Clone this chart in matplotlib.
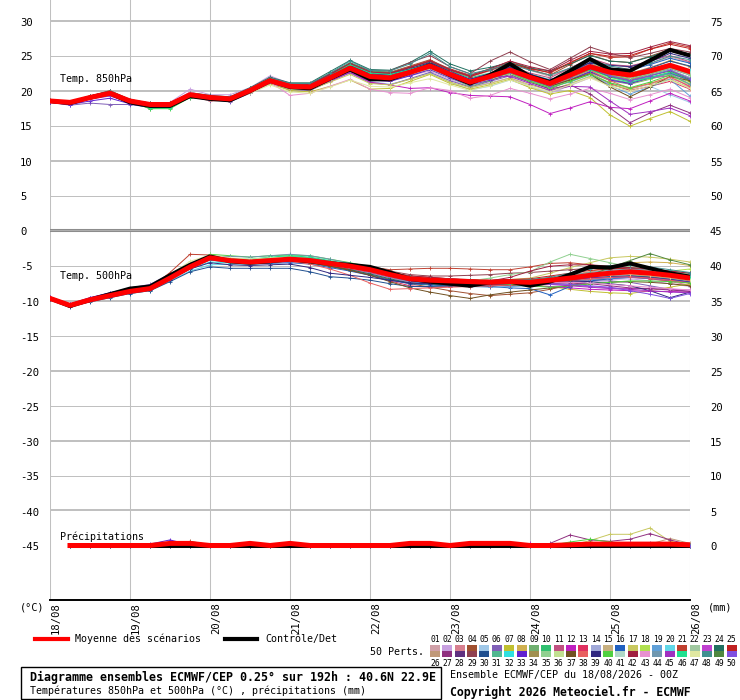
import matplotlib
matplotlib.use("Agg")
import matplotlib.pyplot as plt
from matplotlib.lines import Line2D
from matplotlib.patches import Rectangle

plt.rcParams['font.family'] = ['DejaVu Sans Mono']

# échéances toutes les 6h sur 192h
hours = list(range(0, 193, 6))
day_labels = ["18/08", "19/08", "20/08", "21/08", "22/08", "23/08", "24/08", "25/08", "26/08"]

# ---- Temp 850hPa
t850_mean = [18.5, 18.3, 19.0, 19.6, 18.5, 18.0, 18.0, 19.4, 19.0, 18.8, 20.0, 21.4, 20.6, 20.5, 21.8, 23.2, 22.0,
             21.8, 22.6, 23.5, 22.3, 21.2, 22.0, 22.9, 21.9, 21.0, 22.2, 23.4, 22.6, 22.2, 22.8, 23.6, 22.7]
t850_ctrl = [18.5, 18.2, 19.0, 19.6, 18.3, 17.8, 17.8, 19.2, 18.8, 18.6, 19.9, 21.4, 20.5, 20.3, 21.7, 23.0, 21.6,
             21.6, 22.6, 23.6, 22.2, 21.0, 22.2, 23.8, 22.0, 21.2, 22.8, 24.5, 23.0, 22.8, 24.3, 25.8, 25.0]
t850_members = [
    [18.6,18.4,19.2,19.9,18.7,18.1,18.2,19.7,19.2,19.0,20.3,21.8,20.9,20.8,22.2,23.6,22.5,22.3,23.0,24.0,22.9,21.9,22.8,23.8,22.9,22.0,23.2,24.5,23.7,23.3,23.8,24.8,24.0],
    [18.4,18.2,19.1,19.8,18.6,18.1,18.3,20.2,19.4,19.4,20.4,22.1,21.0,20.8,22.0,23.3,21.8,21.4,22.1,22.8,21.6,20.4,21.1,21.8,20.6,19.6,20.7,21.8,20.9,20.2,20.9,21.7,20.8],
    [18.5,18.2,18.9,19.5,18.4,17.9,17.9,19.3,18.5,18.6,19.9,21.2,20.3,20.2,21.5,22.9,21.6,21.5,22.4,23.3,22.2,21.3,22.1,23.0,22.1,21.2,22.6,23.8,22.9,22.4,23.3,24.2,23.4],
    [18.6,18.4,19.2,20.0,18.7,18.2,18.1,19.5,19.1,18.9,20.2,21.5,20.9,20.7,22.3,23.9,22.7,22.6,23.5,24.4,23.0,22.0,22.9,24.0,23.0,22.2,23.7,25.1,24.2,24.0,24.9,25.9,25.2],
    [18.4,18.1,18.9,19.4,18.3,17.8,17.8,19.2,18.8,18.5,19.7,21.0,20.2,20.1,21.4,22.6,21.3,20.9,21.6,22.5,21.2,20.1,20.6,21.5,20.5,19.8,20.9,22.1,21.0,20.0,20.6,19.4,18.3],
    [18.3,17.9,18.2,18.0,18.0,17.6,17.7,19.0,18.7,18.4,19.6,21.0,20.1,20.0,21.3,22.5,21.1,20.8,21.7,22.6,21.4,20.5,21.3,22.1,21.2,20.4,21.8,23.0,22.0,21.5,22.3,23.1,22.2],
    [18.5,18.3,19.0,19.5,18.4,17.9,18.0,19.3,18.9,18.6,19.8,21.0,20.0,19.8,20.6,21.5,20.2,20.3,21.3,22.3,21.0,20.2,20.8,21.6,20.4,19.5,20.0,19.0,16.5,14.9,16.0,17.0,15.6],
    [18.5,18.3,19.1,19.7,18.6,18.1,18.1,19.5,19.1,18.9,20.1,21.5,20.7,20.6,21.9,23.4,22.2,22.0,22.8,23.7,22.5,21.4,22.3,23.3,22.2,21.3,22.6,23.9,23.0,22.5,23.2,24.3,23.4],
    [18.5,18.2,19.0,19.6,18.4,17.4,17.5,19.1,18.8,18.6,19.9,21.3,20.5,20.3,21.6,23.0,21.8,21.5,22.2,23.0,21.8,20.6,21.4,22.3,21.2,20.2,21.4,22.6,21.4,20.9,21.6,22.4,21.4],
    [18.6,18.4,19.1,19.8,18.6,18.0,18.1,19.6,19.2,19.0,20.2,21.7,21.0,20.9,22.4,24.0,22.8,22.6,23.3,24.1,22.8,21.8,22.5,23.4,22.4,21.5,22.5,23.6,22.6,21.9,22.4,22.9,21.8],
    [18.5,18.3,19.0,19.7,18.5,18.0,18.0,19.4,18.9,18.8,20.0,21.4,20.6,20.6,21.9,23.3,22.1,21.9,22.7,23.6,22.4,21.4,22.4,23.5,22.5,21.8,23.2,24.6,23.7,23.5,24.2,25.0,24.1],
    [18.4,18.2,18.9,19.5,18.4,17.9,17.9,19.3,18.9,18.7,19.8,21.2,20.3,20.1,21.3,22.6,21.2,20.8,20.3,20.4,19.7,19.3,19.2,19.1,18.0,16.7,17.5,18.4,17.6,17.4,18.5,19.6,18.5],
    [18.5,18.3,19.0,19.6,18.5,18.0,17.9,19.3,19.0,18.7,20.0,21.3,20.5,20.4,21.7,23.1,21.9,21.8,22.6,23.5,22.3,21.2,22.0,22.8,21.7,20.6,21.6,22.5,21.0,20.0,20.6,21.3,20.2],
    [18.5,18.3,19.1,19.7,18.6,18.1,18.2,19.6,19.1,18.9,20.1,21.6,20.7,20.6,22.0,23.5,22.3,22.2,22.9,23.8,22.6,21.5,22.2,23.0,22.0,21.1,22.3,23.5,22.5,21.8,22.3,22.8,21.9],
    [18.5,18.3,19.0,19.6,18.5,18.0,18.0,19.4,19.0,18.8,20.0,21.3,20.5,20.5,21.8,23.2,22.0,21.7,22.5,23.4,22.1,21.0,21.8,22.7,21.6,20.7,22.0,23.2,22.3,21.8,22.6,23.4,22.6],
    [18.4,18.2,19.0,19.6,18.5,18.0,18.1,19.5,19.1,18.9,20.1,21.5,20.8,20.8,22.2,23.7,22.6,22.4,23.1,23.9,22.7,21.6,22.4,23.3,22.3,21.5,22.7,24.0,23.2,22.9,23.7,24.6,23.9],
    [18.5,18.3,19.0,19.5,18.4,17.9,18.0,19.3,18.9,18.7,19.8,21.1,20.2,20.1,21.2,22.3,21.0,20.8,21.6,22.4,21.2,20.4,21.0,21.8,20.8,20.0,21.0,22.0,20.8,20.2,21.0,21.6,20.4],
    [18.6,18.4,19.1,19.7,18.6,18.1,18.1,19.5,19.1,19.0,20.3,21.7,20.9,20.8,22.2,23.8,22.5,22.3,23.0,23.9,22.6,21.4,22.1,22.9,21.8,20.8,21.7,22.9,21.7,21.0,21.7,22.2,21.2],
    [18.5,18.3,19.0,19.6,18.5,18.0,18.0,19.4,18.9,18.8,19.9,21.3,20.5,20.4,21.7,23.1,21.9,21.7,22.5,23.4,22.2,21.3,21.9,22.7,21.5,20.5,21.2,22.3,20.7,19.5,20.5,21.6,19.2],
    [18.5,18.3,19.0,19.6,18.5,18.0,18.0,19.4,19.0,18.8,20.0,21.4,20.6,20.5,21.8,23.2,22.1,21.9,22.7,23.6,22.4,21.3,22.1,23.0,22.0,21.2,22.4,23.6,22.7,22.3,22.9,23.7,22.9],
    [18.5,18.4,19.1,19.8,18.6,18.1,18.2,19.6,19.2,19.0,20.2,21.6,20.9,20.9,22.3,23.8,22.6,22.5,23.4,24.3,23.1,22.2,23.1,24.2,23.2,22.5,23.9,25.3,24.7,24.8,25.9,26.8,26.2],
    [18.5,18.3,19.0,19.5,18.4,17.9,18.0,19.3,18.9,18.7,19.9,21.2,20.4,20.3,21.5,22.8,21.6,21.4,22.2,23.1,21.9,20.9,21.7,22.6,21.6,20.8,21.9,23.1,21.9,21.3,22.2,23.0,21.8],
    [18.5,18.3,19.1,19.7,18.6,18.1,18.1,19.5,19.1,18.9,20.1,21.5,20.7,20.6,21.9,23.4,22.3,22.1,22.9,23.9,22.6,21.5,22.3,23.3,22.2,21.2,22.4,23.8,22.5,21.5,21.8,22.1,20.5],
    [18.6,18.4,19.2,19.9,18.7,18.1,18.2,19.7,19.3,19.1,20.4,21.9,21.1,21.1,22.7,24.3,23.0,22.9,24.0,25.6,23.8,22.8,23.3,24.0,23.2,22.8,23.8,25.0,24.2,24.0,24.8,25.8,25.2],
    [18.5,18.3,19.1,19.7,18.6,18.0,18.1,19.5,19.1,18.9,20.2,21.6,20.8,20.7,22.1,23.6,22.5,22.4,23.3,24.2,22.9,22.0,22.9,23.9,23.1,22.6,24.0,25.3,24.9,25.0,25.9,26.6,26.0],
    [18.5,18.2,18.9,19.5,18.4,17.9,17.9,19.3,18.9,18.7,19.9,21.3,20.4,20.3,21.6,23.0,21.7,21.5,22.3,23.2,22.0,21.0,21.8,22.7,21.7,20.9,22.0,23.2,22.1,21.6,22.4,23.3,22.3],
    [18.5,18.3,19.0,19.6,18.5,18.0,18.0,19.4,19.0,18.8,19.9,21.3,20.4,20.3,21.6,22.9,21.7,21.5,22.2,23.1,21.9,20.9,21.5,22.3,21.2,20.2,20.8,19.5,17.5,15.4,16.8,17.9,16.8],
    [18.4,18.2,18.9,19.5,18.4,17.9,17.9,19.3,18.8,18.6,19.8,21.2,20.4,20.3,21.6,23.0,21.8,21.6,22.4,23.3,22.1,21.1,21.9,22.8,21.8,20.9,22.1,23.3,22.3,21.7,22.5,23.4,22.5],
    [18.6,18.4,19.2,19.9,18.7,18.2,18.2,19.6,19.2,19.0,20.3,21.8,21.0,21.0,22.4,23.9,22.8,22.8,24.0,25.0,23.4,22.4,24.2,25.5,24.1,23.0,24.6,26.2,25.3,24.7,25.3,26.0,25.5],
    [18.5,18.3,19.1,19.7,18.6,18.1,18.1,19.5,19.1,18.9,20.2,21.6,20.9,20.8,22.2,23.6,22.4,22.2,23.0,23.9,22.6,21.5,22.3,23.2,22.2,21.3,22.5,23.7,22.8,22.3,23.2,24.2,23.5],
    [18.5,18.3,19.0,19.6,18.5,18.0,18.0,19.4,19.0,18.8,20.0,21.3,20.5,20.4,21.7,23.1,21.9,21.7,22.5,23.3,22.1,21.0,21.7,22.5,21.4,20.5,21.6,22.7,21.6,21.1,21.9,22.6,21.5],
    [18.5,18.3,19.0,19.7,18.5,18.0,18.1,19.5,19.0,18.9,20.1,21.5,20.7,20.6,22.0,23.4,22.2,22.0,22.8,23.7,22.5,21.4,22.2,23.1,22.1,21.2,22.4,23.7,22.8,22.4,23.1,23.8,22.8],
    [18.3,18.0,18.5,18.9,18.1,17.6,17.7,19.1,18.7,18.5,19.7,21.1,20.3,20.2,21.5,22.8,21.5,21.3,22.1,23.0,21.8,20.8,21.5,22.4,21.3,20.3,21.5,22.7,21.5,21.0,21.8,22.5,21.5],
    [18.5,18.3,19.0,19.6,18.5,18.0,18.0,19.4,18.8,18.7,19.9,21.3,20.4,20.3,21.6,23.0,21.8,21.6,22.4,23.3,22.1,21.1,21.9,22.8,21.8,20.9,22.1,23.2,22.2,21.6,22.4,23.3,22.4],
    [18.5,18.3,19.1,19.7,18.6,18.0,18.1,19.5,19.1,18.9,20.1,21.5,20.7,20.6,21.9,23.3,22.1,21.9,22.7,23.6,22.3,21.2,22.0,22.9,21.8,20.9,22.1,23.3,22.3,21.7,22.4,23.2,22.2],
    [18.5,18.3,19.0,19.5,18.4,17.9,17.9,19.3,18.9,18.7,19.9,21.2,20.3,20.2,21.5,22.9,21.7,21.5,22.3,23.1,21.9,20.9,21.6,22.4,21.3,20.4,21.4,22.4,21.1,20.3,21.0,22.0,20.8],
    [18.5,18.3,19.0,19.6,18.5,18.0,18.0,19.4,19.0,18.8,20.0,21.4,20.6,20.4,21.7,23.1,21.8,21.6,22.4,23.3,22.1,21.1,21.8,22.7,21.6,20.6,21.5,22.4,20.5,19.1,20.5,22.0,21.4],
    [18.5,18.3,19.0,19.6,18.5,18.0,18.0,19.4,18.9,18.8,20.0,21.3,20.5,20.4,21.7,23.1,21.9,21.7,22.6,23.5,22.2,21.2,21.9,22.8,21.7,20.8,21.8,22.9,21.4,20.3,21.0,21.9,20.6],
    [18.5,18.3,19.0,19.6,18.5,18.0,18.0,19.4,19.0,18.8,20.0,21.4,20.6,20.6,22.0,23.5,22.4,22.3,23.1,24.0,22.7,21.6,22.4,23.3,22.3,21.4,22.6,24.0,23.6,23.4,24.1,25.3,24.6],
    [18.5,18.3,19.0,19.6,18.5,17.4,17.4,19.0,18.8,18.6,19.9,21.3,20.5,20.4,21.8,23.3,22.1,21.9,22.7,23.5,22.1,21.0,21.7,22.5,21.3,20.4,21.3,22.3,21.1,20.4,21.2,22.2,20.9],
    [18.5,18.3,19.0,19.6,18.5,18.0,18.0,19.4,19.0,18.8,20.0,21.4,20.6,20.5,21.8,23.2,22.0,21.8,22.6,23.5,22.3,21.2,22.0,22.9,21.9,21.0,22.2,23.4,22.5,22.0,22.7,23.5,22.6],
    [18.5,18.3,19.1,19.8,18.6,18.1,18.1,19.6,19.2,19.0,20.2,21.7,20.9,20.9,22.3,23.8,22.6,22.5,23.3,24.2,23.0,22.1,23.1,24.2,23.4,22.8,24.3,25.6,25.2,25.3,26.2,27.0,26.4],
    [18.6,18.4,19.1,19.8,18.6,18.0,18.0,19.8,18.9,18.7,19.9,21.2,19.3,19.6,20.6,21.6,20.2,19.7,19.6,20.4,20.0,18.9,19.3,20.3,19.6,18.8,19.5,20.3,19.6,18.7,19.4,20.2,19.0],
    [18.5,18.3,19.0,19.6,18.5,18.0,18.0,19.4,19.0,18.8,20.0,21.4,20.6,20.5,21.8,23.2,22.0,21.8,22.6,23.5,22.3,21.2,22.0,22.9,21.9,21.0,22.1,23.2,22.1,21.4,21.9,22.4,20.9],
    [18.5,18.3,19.0,19.6,18.5,18.0,18.0,19.4,19.0,18.8,20.0,21.4,20.6,20.5,21.8,23.2,22.1,21.9,22.8,23.8,22.6,21.5,22.0,22.0,21.0,20.0,20.6,20.5,18.5,16.6,17.0,17.5,16.4],
    [18.5,18.3,19.0,19.6,18.5,17.5,17.5,19.1,18.9,18.7,20.0,21.5,20.8,20.7,22.1,23.7,22.5,22.3,23.0,23.8,22.5,21.4,22.1,22.9,21.8,20.8,21.9,23.0,21.9,21.2,21.8,22.6,21.6],
    [18.5,18.3,19.0,19.5,18.3,17.9,18.0,19.3,18.8,18.6,19.6,20.8,19.8,19.6,20.5,21.5,20.6,20.5,21.1,21.7,20.8,20.0,20.7,21.5,20.6,19.8,20.8,21.8,20.6,19.9,20.7,21.5,20.3],
    [18.6,18.4,19.2,19.9,18.7,18.2,18.2,19.6,19.2,19.0,20.3,21.8,21.0,21.0,22.5,24.2,22.9,22.8,23.8,25.3,23.4,22.4,23.0,23.8,22.9,22.2,23.2,24.4,23.5,23.0,23.9,24.9,24.4],
    [18.5,18.3,19.0,19.6,18.5,18.0,18.0,19.4,19.0,18.8,20.0,21.4,20.6,20.5,21.8,23.2,22.0,21.8,22.6,23.5,22.2,21.1,21.9,22.8,21.7,20.8,22.0,23.1,22.0,21.4,22.1,22.8,21.6],
    [18.4,18.1,18.8,19.2,18.3,17.9,17.9,19.3,18.9,18.7,19.9,21.3,20.5,20.4,21.7,23.1,21.9,21.6,22.4,23.2,21.9,20.9,21.7,22.6,21.6,20.7,21.9,23.2,22.1,21.4,22.1,22.9,21.7],
]

# ---- Temp 500hPa
t500_mean = [-9.7, -10.7, -9.9, -9.3, -8.7, -8.3, -6.8, -5.2, -3.9, -4.3, -4.5, -4.3, -4.1, -4.3, -4.7, -5.1, -5.6,
             -6.3, -6.9, -7.1, -7.2, -7.3, -7.4, -7.3, -7.4, -7.1, -6.8, -6.4, -6.1, -5.9, -6.1, -6.4, -6.8]
t500_ctrl = [-9.7, -10.8, -9.9, -9.1, -8.3, -8.0, -6.4, -4.9, -3.7, -4.4, -4.6, -4.4, -4.1, -4.4, -4.7, -4.9, -5.2,
             -6.0, -6.9, -7.3, -7.6, -7.9, -7.4, -7.3, -7.9, -7.3, -6.3, -5.2, -5.3, -4.7, -5.4, -6.1, -6.6]
t500_members = [
    [-9.6,-10.6,-9.8,-9.1,-8.5,-8.0,-6.5,-4.9,-3.7,-4.0,-4.2,-4.0,-3.9,-4.1,-4.6,-5.0,-5.5,-6.1,-6.7,-6.9,-7.0,-7.0,-7.1,-7.0,-7.0,-6.7,-6.3,-5.9,-5.6,-5.4,-5.6,-5.9,-6.3],
    [-9.8,-10.8,-10.0,-9.4,-8.8,-8.4,-7.0,-5.4,-4.1,-4.4,-4.7,-4.6,-4.5,-4.7,-5.2,-5.6,-6.1,-6.8,-7.4,-7.6,-7.7,-7.8,-7.9,-7.8,-7.8,-7.5,-7.3,-7.1,-7.0,-6.9,-7.2,-7.6,-8.0],
    [-9.7,-10.7,-9.9,-9.2,-8.6,-8.2,-6.7,-5.0,-3.8,-4.2,-4.4,-4.2,-4.0,-4.2,-4.6,-5.0,-5.4,-6.0,-6.5,-6.7,-6.9,-7.1,-7.2,-7.2,-7.4,-7.2,-7.0,-6.8,-6.7,-6.6,-6.9,-7.3,-7.8],
    [-9.7,-10.7,-9.9,-9.3,-8.7,-8.3,-6.9,-5.3,-4.0,-4.4,-4.6,-4.4,-4.3,-4.6,-5.1,-5.7,-6.3,-7.0,-7.6,-8.1,-8.6,-9.0,-9.3,-9.1,-8.9,-8.4,-7.8,-7.2,-6.8,-6.5,-6.6,-6.9,-7.2],
    [-9.6,-10.6,-9.8,-9.2,-8.6,-8.1,-6.6,-5.0,-3.8,-4.2,-4.4,-4.2,-4.1,-4.3,-4.8,-5.3,-5.9,-6.6,-7.3,-7.6,-7.8,-7.9,-7.9,-7.8,-7.7,-7.4,-7.0,-6.6,-6.4,-6.3,-6.5,-6.9,-7.3],
    [-9.5,-10.5,-9.6,-8.9,-8.2,-7.7,-6.2,-4.8,-3.8,-4.3,-4.4,-4.1,-4.0,-4.2,-4.6,-5.0,-5.5,-6.2,-6.8,-7.0,-7.2,-7.3,-7.5,-7.5,-7.7,-7.6,-7.4,-7.2,-7.2,-7.4,-7.9,-8.4,-8.7],
    [-9.7,-10.7,-9.9,-9.2,-8.6,-8.2,-6.7,-5.0,-3.8,-4.2,-4.4,-4.2,-4.1,-4.3,-4.7,-5.1,-5.6,-6.3,-6.9,-7.1,-7.3,-7.5,-7.7,-7.6,-7.8,-8.0,-8.4,-8.7,-8.9,-9.0,-8.6,-8.1,-7.6],
    [-9.7,-10.7,-9.9,-9.3,-8.7,-8.3,-6.8,-5.2,-3.9,-4.3,-4.5,-4.3,-4.1,-4.3,-4.7,-5.1,-5.6,-6.3,-6.9,-7.1,-7.2,-7.3,-7.4,-7.3,-7.4,-7.1,-6.5,-5.9,-5.1,-4.6,-4.5,-4.6,-5.0],
    [-9.7,-10.7,-9.9,-9.3,-8.7,-8.3,-6.8,-5.1,-3.7,-4.1,-4.3,-4.0,-3.8,-4.0,-4.5,-5.0,-5.5,-6.2,-6.8,-7.0,-7.1,-7.2,-7.3,-7.2,-7.3,-7.0,-6.8,-6.5,-6.4,-6.3,-6.5,-6.8,-7.1],
    [-9.6,-10.6,-9.8,-9.2,-8.6,-8.2,-6.6,-4.9,-3.6,-4.0,-4.2,-3.9,-3.7,-3.9,-4.4,-4.9,-5.4,-6.1,-6.7,-7.0,-7.1,-7.3,-7.4,-7.5,-7.7,-7.5,-7.3,-7.0,-6.8,-6.5,-6.5,-6.7,-7.0],
    [-9.7,-10.7,-9.9,-9.3,-8.7,-8.4,-6.9,-5.3,-4.0,-4.4,-4.6,-4.4,-4.3,-4.6,-5.0,-5.5,-6.0,-6.7,-7.3,-7.5,-7.6,-7.6,-7.7,-7.6,-7.6,-7.3,-6.9,-6.5,-6.2,-6.0,-6.1,-6.4,-6.8],
    [-9.7,-10.7,-9.9,-9.3,-8.7,-8.3,-6.8,-5.2,-3.9,-4.3,-4.5,-4.3,-4.2,-4.4,-4.8,-5.3,-5.9,-6.6,-7.2,-7.4,-7.5,-7.5,-7.6,-7.7,-7.9,-8.0,-8.2,-8.4,-8.5,-8.6,-8.7,-8.7,-8.8],
    [-9.8,-10.8,-10.0,-9.4,-8.8,-8.4,-6.9,-5.3,-4.0,-4.4,-4.6,-4.4,-4.2,-4.5,-5.0,-5.6,-6.4,-7.2,-7.9,-8.1,-8.0,-7.9,-7.9,-7.8,-7.8,-7.6,-7.3,-7.0,-6.8,-6.7,-6.9,-7.2,-7.5],
    [-9.7,-10.7,-9.9,-9.3,-8.7,-8.3,-6.8,-5.2,-3.9,-4.3,-4.5,-4.3,-4.1,-4.3,-4.7,-5.1,-5.6,-6.2,-6.8,-7.0,-7.1,-7.2,-7.3,-7.2,-7.2,-6.9,-6.6,-6.2,-6.0,-5.8,-6.0,-6.3,-6.6],
    [-9.7,-10.7,-9.9,-9.3,-8.7,-8.3,-6.8,-5.2,-3.9,-4.3,-4.5,-4.3,-4.2,-4.4,-4.8,-5.2,-5.7,-6.4,-7.0,-7.2,-7.3,-7.4,-7.5,-7.4,-7.5,-7.2,-6.9,-6.5,-6.2,-6.0,-6.2,-6.5,-6.9],
    [-9.7,-10.8,-10.1,-9.5,-8.9,-8.5,-7.0,-5.4,-4.2,-4.6,-4.8,-4.7,-4.6,-4.8,-5.3,-5.8,-6.4,-7.1,-7.6,-7.8,-7.9,-7.9,-8.0,-8.2,-8.3,-9.2,-8.0,-7.2,-6.9,-6.7,-6.8,-7.0,-7.3],
    [-9.7,-10.7,-9.9,-9.3,-8.7,-8.3,-6.8,-5.2,-3.9,-4.3,-4.5,-4.3,-4.1,-4.3,-4.7,-5.1,-5.6,-6.3,-6.9,-7.1,-7.2,-7.2,-7.2,-7.0,-6.8,-6.1,-5.3,-4.6,-3.9,-3.7,-3.8,-4.1,-4.5],
    [-9.6,-10.6,-9.8,-9.2,-8.6,-8.2,-6.7,-5.1,-3.8,-4.2,-4.4,-4.2,-4.0,-4.2,-4.6,-5.0,-5.5,-6.2,-6.8,-7.0,-7.1,-7.2,-7.2,-7.1,-7.1,-6.8,-6.5,-6.2,-6.0,-5.9,-5.9,-5.8,-5.5],
    [-9.7,-10.7,-9.9,-9.3,-8.7,-8.3,-6.8,-5.2,-3.9,-4.3,-4.5,-4.3,-4.2,-4.4,-4.8,-5.3,-5.9,-6.6,-7.3,-7.6,-7.8,-8.0,-8.1,-8.0,-7.9,-7.6,-7.3,-7.0,-6.8,-6.7,-6.8,-7.1,-7.4],
    [-9.7,-10.7,-10.0,-9.5,-9.0,-8.6,-7.2,-5.8,-4.9,-4.8,-4.8,-4.5,-4.3,-4.5,-4.9,-5.3,-5.8,-6.5,-7.1,-7.3,-7.4,-7.5,-7.6,-7.5,-7.5,-7.2,-6.9,-6.5,-6.2,-6.0,-6.2,-6.5,-6.9],
    [-9.7,-10.7,-9.9,-9.3,-8.7,-8.2,-6.0,-3.4,-3.5,-4.0,-4.3,-4.2,-4.1,-4.2,-4.5,-4.8,-5.2,-5.6,-5.5,-5.4,-5.4,-5.5,-5.6,-5.6,-5.2,-4.7,-4.6,-4.9,-5.3,-5.6,-5.9,-6.2,-6.5],
    [-9.7,-10.7,-9.9,-9.3,-8.7,-8.3,-6.8,-5.2,-3.9,-4.3,-4.5,-4.3,-4.1,-4.3,-4.7,-5.1,-5.6,-6.3,-6.9,-7.1,-7.2,-7.3,-7.4,-7.3,-7.3,-7.0,-6.7,-6.4,-6.2,-6.1,-6.3,-6.7,-7.1],
    [-9.6,-10.6,-9.8,-9.2,-8.6,-8.2,-6.7,-5.1,-3.8,-4.2,-4.4,-4.2,-4.0,-4.2,-4.6,-5.0,-5.5,-6.2,-6.8,-7.0,-7.1,-7.2,-7.4,-7.5,-7.7,-7.7,-7.8,-8.0,-8.2,-8.3,-8.3,-8.4,-8.5],
    [-9.8,-10.8,-10.0,-9.4,-8.8,-8.4,-6.9,-5.3,-4.0,-4.4,-4.6,-4.5,-4.4,-4.6,-5.1,-5.6,-6.2,-6.9,-7.5,-7.7,-7.8,-7.9,-7.9,-7.8,-7.7,-7.3,-6.9,-6.5,-6.2,-6.0,-6.1,-6.4,-6.7],
    [-9.7,-10.7,-9.9,-9.3,-8.7,-8.3,-6.8,-5.2,-3.9,-4.3,-4.5,-4.3,-4.1,-4.3,-4.6,-5.0,-5.4,-6.0,-6.5,-6.7,-6.9,-7.0,-7.1,-7.0,-6.9,-6.5,-6.1,-5.7,-5.5,-5.4,-5.6,-6.0,-6.4],
    [-9.7,-10.7,-9.9,-9.3,-8.7,-8.3,-6.8,-5.2,-3.9,-4.3,-4.5,-4.3,-4.1,-4.3,-4.7,-5.2,-5.7,-6.4,-7.0,-7.3,-7.4,-7.5,-7.6,-7.5,-7.5,-7.2,-6.9,-6.6,-6.4,-6.3,-6.5,-6.8,-7.2],
    [-9.7,-10.7,-9.9,-9.3,-8.7,-8.3,-6.8,-5.2,-3.9,-4.3,-4.5,-4.3,-4.1,-4.3,-4.7,-5.1,-5.6,-6.3,-6.9,-7.1,-7.2,-7.3,-7.4,-7.4,-7.6,-7.5,-7.5,-7.6,-7.9,-8.2,-8.3,-8.5,-8.7],
    [-9.6,-10.6,-9.8,-9.2,-8.6,-8.2,-6.7,-5.1,-3.8,-4.2,-4.4,-4.2,-4.0,-4.2,-4.6,-5.1,-5.7,-6.5,-7.2,-7.5,-7.7,-7.8,-7.9,-7.8,-7.8,-7.5,-7.2,-6.8,-6.6,-6.5,-6.7,-7.0,-7.4],
    [-9.7,-10.7,-9.9,-9.3,-8.7,-8.3,-6.8,-5.2,-3.9,-4.3,-4.5,-4.3,-4.1,-4.2,-4.6,-4.9,-5.3,-5.8,-6.3,-6.5,-6.5,-6.4,-6.3,-6.1,-6.0,-5.8,-5.6,-5.4,-5.3,-5.3,-5.5,-5.8,-6.1],
    [-9.8,-10.9,-10.2,-9.6,-9.0,-8.6,-7.3,-5.9,-5.2,-5.4,-5.4,-5.4,-5.4,-5.9,-6.6,-6.8,-7.1,-7.6,-8.0,-8.0,-7.9,-7.8,-7.8,-7.7,-7.7,-7.4,-7.1,-6.8,-6.6,-6.5,-6.7,-7.0,-7.4],
    [-9.7,-10.7,-9.9,-9.3,-8.7,-8.3,-6.8,-5.2,-3.9,-4.3,-4.5,-4.3,-4.1,-4.3,-4.7,-5.1,-5.6,-6.3,-6.9,-7.1,-7.2,-7.3,-7.4,-7.3,-7.4,-7.1,-6.8,-6.4,-6.1,-5.9,-6.0,-6.3,-6.6],
    [-9.7,-10.7,-9.9,-9.3,-8.7,-8.3,-6.9,-5.5,-4.5,-4.6,-4.6,-4.4,-4.2,-4.4,-4.8,-5.2,-5.7,-6.3,-6.9,-7.1,-7.2,-7.3,-7.4,-7.3,-7.4,-7.1,-6.8,-6.4,-6.1,-5.9,-6.1,-6.4,-6.8],
    [-9.5,-10.5,-9.6,-8.9,-8.3,-7.9,-6.4,-4.9,-3.7,-4.1,-4.3,-4.1,-3.9,-4.1,-4.5,-5.0,-5.5,-6.2,-6.8,-7.0,-7.1,-7.2,-7.3,-7.3,-7.4,-7.2,-7.0,-6.8,-6.7,-6.6,-6.8,-7.1,-7.4],
    [-9.7,-10.7,-9.9,-9.3,-8.7,-8.3,-6.8,-5.2,-3.9,-4.3,-4.5,-4.3,-4.1,-4.3,-4.7,-5.1,-5.6,-6.3,-6.9,-7.1,-7.2,-7.3,-7.4,-7.3,-7.3,-7.0,-6.7,-6.3,-6.0,-5.8,-5.9,-6.1,-6.4],
    [-9.7,-10.7,-9.9,-9.2,-8.6,-8.1,-6.6,-5.0,-3.8,-4.2,-4.4,-4.2,-4.0,-4.2,-4.6,-5.0,-5.5,-6.2,-6.8,-7.0,-7.1,-7.2,-6.8,-6.3,-5.9,-4.5,-3.4,-4.0,-4.6,-5.2,-5.6,-5.9,-6.2],
    [-9.7,-10.7,-9.9,-9.3,-8.7,-8.3,-6.8,-5.2,-3.9,-4.3,-4.5,-4.3,-4.1,-4.3,-4.7,-5.1,-5.6,-6.2,-6.8,-7.0,-7.1,-7.2,-7.3,-7.2,-7.2,-6.9,-6.5,-6.1,-5.8,-5.6,-5.8,-6.1,-6.4],
    [-9.7,-10.7,-9.9,-9.3,-8.7,-8.3,-6.8,-5.2,-3.9,-4.3,-4.5,-4.4,-4.3,-4.6,-5.1,-5.7,-6.4,-7.3,-8.2,-8.8,-9.3,-9.7,-9.2,-8.8,-8.5,-8.2,-7.9,-7.6,-7.4,-7.3,-7.4,-7.6,-7.9],
    [-9.7,-10.7,-9.9,-9.3,-8.7,-8.3,-6.8,-5.2,-3.9,-4.3,-4.5,-4.4,-4.4,-4.8,-5.5,-6.4,-7.5,-8.4,-8.3,-8.2,-8.1,-8.0,-7.9,-7.8,-7.7,-7.5,-7.2,-6.9,-6.7,-6.6,-6.8,-7.1,-7.5],
    [-9.7,-10.8,-10.1,-9.5,-8.9,-8.5,-7.0,-5.5,-4.6,-4.9,-5.0,-4.9,-4.8,-5.3,-6.1,-6.4,-6.7,-7.1,-7.5,-7.6,-7.6,-7.6,-7.6,-7.5,-7.5,-7.3,-7.2,-7.3,-7.6,-7.9,-8.6,-9.6,-8.8],
    [-9.7,-10.7,-9.9,-9.3,-8.7,-8.3,-6.8,-5.1,-3.4,-3.6,-3.8,-3.6,-3.5,-3.6,-4.1,-4.6,-5.2,-5.9,-6.6,-6.9,-7.1,-7.3,-7.5,-7.7,-7.9,-8.1,-7.9,-7.6,-7.4,-7.2,-7.2,-7.3,-7.5],
    [-9.7,-10.7,-9.9,-9.3,-8.7,-8.3,-6.8,-5.2,-3.9,-4.3,-4.5,-4.3,-4.1,-4.3,-4.7,-5.1,-5.6,-6.3,-6.9,-7.1,-7.2,-7.3,-7.4,-7.3,-7.4,-7.1,-6.8,-6.4,-6.1,-5.9,-6.1,-6.4,-6.8],
    [-9.7,-10.7,-9.9,-9.3,-8.7,-8.3,-6.8,-5.2,-3.8,-4.1,-4.3,-4.1,-3.9,-4.1,-4.5,-4.9,-5.4,-6.0,-6.5,-6.7,-6.9,-7.1,-7.2,-6.7,-5.8,-5.1,-4.9,-4.9,-5.1,-5.3,-5.5,-5.8,-6.1],
    [-9.7,-10.7,-9.9,-9.3,-8.7,-8.3,-6.8,-5.2,-3.9,-4.3,-4.5,-4.3,-4.1,-4.3,-4.7,-5.1,-5.6,-6.3,-6.9,-7.1,-7.2,-7.3,-7.4,-7.4,-7.5,-7.4,-7.4,-7.5,-7.7,-7.9,-8.1,-8.3,-8.5],
    [-9.7,-10.7,-9.9,-9.3,-8.7,-8.3,-6.8,-5.2,-3.7,-3.7,-3.8,-3.6,-3.4,-3.6,-4.1,-4.7,-5.3,-6.0,-6.6,-6.9,-7.0,-7.1,-7.2,-7.1,-7.1,-6.8,-6.4,-6.0,-5.7,-5.5,-5.7,-6.0,-6.4],
    [-9.7,-10.7,-9.9,-9.3,-8.7,-8.3,-6.8,-5.2,-3.9,-4.3,-4.5,-4.3,-4.1,-4.3,-4.7,-5.1,-5.6,-6.3,-6.9,-7.1,-7.2,-7.3,-7.4,-7.5,-7.6,-7.7,-7.9,-8.1,-8.3,-8.4,-8.6,-8.8,-8.9],
    [-9.6,-10.6,-9.8,-9.2,-8.6,-8.2,-6.7,-5.1,-3.7,-4.0,-4.1,-3.8,-3.6,-3.8,-4.3,-4.8,-5.4,-6.1,-6.7,-6.9,-7.0,-7.1,-7.2,-7.1,-7.1,-6.8,-6.5,-6.2,-6.0,-5.9,-6.1,-6.4,-6.8],
    [-9.7,-10.7,-9.9,-9.2,-8.5,-8.0,-6.3,-4.4,-3.5,-3.9,-4.1,-3.9,-3.8,-4.0,-4.5,-5.0,-5.6,-6.3,-6.9,-7.1,-7.2,-7.3,-7.4,-7.3,-7.3,-7.1,-6.8,-6.5,-6.3,-6.2,-6.4,-6.7,-7.0],
    [-9.7,-10.7,-9.9,-9.3,-8.7,-8.3,-6.8,-5.2,-3.9,-4.3,-4.5,-4.2,-3.9,-4.0,-4.4,-4.9,-5.4,-6.1,-6.7,-6.9,-7.0,-7.1,-7.2,-7.1,-7.0,-6.7,-6.1,-5.5,-5.0,-4.9,-5.2,-5.6,-6.0],
    [-9.7,-10.7,-9.9,-9.3,-8.7,-8.3,-6.8,-5.2,-3.9,-4.3,-4.5,-4.3,-4.1,-4.3,-4.7,-5.1,-5.6,-6.3,-6.9,-7.1,-7.2,-7.3,-7.4,-7.4,-7.5,-7.3,-7.0,-6.4,-5.3,-4.3,-3.3,-4.2,-4.9],
    [-9.6,-10.5,-9.7,-9.0,-8.4,-8.0,-6.5,-4.9,-3.8,-4.2,-4.4,-4.2,-4.0,-4.2,-4.6,-5.1,-5.6,-6.3,-6.9,-7.2,-7.3,-7.4,-7.5,-7.5,-7.6,-7.6,-7.7,-7.9,-8.1,-8.6,-9.1,-9.7,-9.0],
]

# ---- Précipitations (mm / 6h), à partir de +6h
pcp_mean = [0, 0, 0, 0, 0, 0.3, 0.3, 0, 0, 0.3, 0, 0.3, 0, 0, 0, 0,
            0, 0.3, 0.3, 0, 0.3, 0.3, 0.3, 0, 0, 0.1, 0.2, 0.2, 0.2, 0.2, 0.2, 0.1]
pcp_ctrl = [0, 0, 0, 0, 0, 0, 0, 0, 0, 0, 0, 0, 0, 0, 0, 0,
            0, 0, 0, 0, 0, 0, 0, 0, 0, 0, 0, 0, 0, 0, 0, 0]
pcp_wet = {
    4:  [0,0,0,0,0,0.1,0.6,0.1, 0,0,0,0,0,0,0,0, 0,0,0,0,0,0,0,0, 0,0,0,0,0,0,0,0],
    33: [0,0,0,0,0.2,0.8,0.1,0, 0,0,0,0,0,0,0,0, 0,0,0,0,0,0,0,0, 0,0,0,0,0,0,0,0],
    12: [0,0,0,0,0,0,0,0, 0,0,0,0,0,0,0,0, 0,0,0,0,0.3,0.1,0,0.3, 0,0,0,0,0,0,0,0],
    27: [0,0,0,0,0,0,0,0, 0,0,0,0,0,0,0,0, 0,0,0,0,0,0,0,0, 0.3,1.5,0.8,0.6,0.9,1.7,0.8,0.1],
    17: [0,0,0,0,0,0,0,0, 0,0,0,0,0,0,0,0, 0,0,0,0,0,0,0,0, 0,0,0.7,1.6,1.6,2.5,0.6,0.1],
    40: [0,0,0,0,0,0,0,0, 0,0,0,0,0,0,0,0, 0,0,0,0,0,0,0,0, 0,0.5,0.9,0.5,0.2,0,0,0],
    26: [0,0,0,0,0,0,0,0, 0,0,0,0,0,0,0,0, 0,0,0,0,0,0,0,0, 0,0,0,0,0,0.2,1.0,0.3],
    45: [0,0,0,0,0,0,0,0, 0,0,0,0,0,0,0,0, 0,0,0,0,0,0,0,0, 0,0,0,0,0.4,0.3,0,0],
}

member_colors = ['#d0a0a8', '#c8a0e0', '#d88090', '#a05030', '#a0c8e8', '#8060b8', '#c0c030', '#d0b050',
                 '#70b070', '#30c070', '#c05080', '#c020c0', '#e03060', '#a0a8d8', '#c8b080', '#2060c0',
                 '#c8c860', '#b0e050', '#60a0d8', '#60d8e8', '#c04030', '#a0c8a0', '#c040d0', '#207060',
                 '#c02020', '#c09878', '#903080', '#603080', '#904050', '#205090', '#50b890', '#30e0e0',
                 '#6020d0', '#a09050', '#90d090', '#c0e090', '#705020', '#e86060', '#302880', '#50d040',
                 '#b0d8c8', '#a02040', '#e890d0', '#7098b0', '#a030c0', '#20e090', '#e0e8a0', '#409090',
                 '#508840', '#8050e0']

W, H = 740, 700
def fx(x):
    return x / W
def fy(y):
    return 1 - y / H
def ypix(v):
    return 230.5 - 7 * v

fig = plt.figure(figsize=(7.4, 7.0), dpi=100)
ax = fig.add_axes([fx(50), fy(600), 640 / W, 600 / H])
ax.set_xlim(0, 192)
ax.set_ylim((230.5 - 600) / 7, 230.5 / 7)
ax.set_xticks([])
ax.set_yticks([])
for s in ['top', 'left', 'right']:
    ax.spines[s].set_visible(False)
ax.spines['bottom'].set_color('black')
ax.spines['bottom'].set_linewidth(1.4)

grid_c = '#c0c0c0'
for d in range(9):
    ax.axvline(24 * d, color=grid_c, lw=0.75, zorder=1)
for v in range(30, -41, -5):
    if v == 0:
        continue
    ax.axhline(v, color=grid_c, lw=1.44 if v % 10 == 0 else 0.72, zorder=1)
# ligne du zéro, double
ax.axhline(0.07, color='#8c8c8c', lw=2.2, zorder=1)
ax.axhline(0.07, color='#b4b4b4', lw=0.6, zorder=1)

# membres
for k in range(50):
    c = member_colors[k]
    ax.plot(hours, t850_members[k], color=c, lw=0.7, marker='+', ms=3, mew=0.6, zorder=2)
    ax.plot(hours, t500_members[k], color=c, lw=0.7, marker='+', ms=3, mew=0.6, zorder=2)
    pcp = pcp_wet.get(k + 1, pcp_ctrl)
    ax.plot(hours[1:], [-45 + p for p in pcp], color=c, lw=0.7, marker='+', ms=3, mew=0.6, zorder=2)

# contrôle puis moyenne
ax.plot(hours, t850_ctrl, color='black', lw=2.9, zorder=3)
ax.plot(hours, t500_ctrl, color='black', lw=2.9, zorder=3)
ax.plot(hours[1:], [-45 + p for p in pcp_ctrl], color='black', lw=2.9, zorder=3)
ax.plot(hours, t850_mean, color='#ff0000', lw=3.6, zorder=4)
ax.plot(hours, t500_mean, color='#ff0000', lw=3.6, zorder=4)
ax.plot(hours[1:], [-45 + p for p in pcp_mean], color='#ff0000', lw=3.6, zorder=4)

# graduations
for v in range(30, -46, -5):
    fig.text(fx(20), fy(ypix(v) + 2), str(v), fontsize=7.6, ha='left', va='center')
    fig.text(fx(710), fy(ypix(v) + 2), str(v + 45), fontsize=7.6, ha='left', va='center')
for d, lab in enumerate(day_labels):
    fig.text(fx(50 + 80 * d + 1), fy(602), lab, fontsize=7.6, rotation=90, ha='left', va='top')
fig.text(fx(20), fy(607), "(°C)", fontsize=7.4, ha='left', va='center')
fig.text(fx(708), fy(607), "(mm)", fontsize=7.4, ha='left', va='center')

fig.text(fx(60), fy(79), "Temp. 850hPa", fontsize=7.2, ha='left', va='center')
fig.text(fx(60), fy(276), "Temp. 500hPa", fontsize=7.2, ha='left', va='center')
fig.text(fx(60), fy(537), "Précipitations", fontsize=7.2, ha='left', va='center')

# légende
fig.add_artist(Line2D([fx(35), fx(68)], [fy(639), fy(639)], color='#ff0000', lw=3))
fig.text(fx(75), fy(639), "Moyenne des scénarios", fontsize=7.2, ha='left', va='center')
fig.add_artist(Line2D([fx(225), fx(257)], [fy(639), fy(639)], color='black', lw=3))
fig.text(fx(265), fy(639), "Contrôle/Det", fontsize=7.2, ha='left', va='center')
fig.text(fx(370), fy(652), "50 Perts.", fontsize=7.2, ha='left', va='center')

for k in range(25):
    x0 = 430 + 12.36 * k
    fig.text(fx(x0 + 5), fy(640), "%02d" % (k + 1), fontsize=5.8, ha='center', va='center')
    fig.text(fx(x0 + 5), fy(663), "%02d" % (k + 26), fontsize=5.8, ha='center', va='center')
    fig.add_artist(Rectangle((fx(x0), fy(651)), 10 / W, 6 / H, color=member_colors[k], lw=0))
    fig.add_artist(Rectangle((fx(x0), fy(657)), 10 / W, 6 / H, color=member_colors[k + 25], lw=0))

# cartouche
fig.add_artist(Rectangle((fx(20.5), fy(699)), 420 / W, 32 / H, fill=False, ec='black', lw=1.0))
fig.text(fx(30), fy(677), "Diagramme ensembles ECMWF/CEP 0.25° sur 192h : 40.6N 22.9E",
         fontsize=8.4, fontweight='bold', ha='left', va='center')
fig.text(fx(30), fy(691), "Températures 850hPa et 500hPa (°C) , précipitations (mm)",
         fontsize=7.2, ha='left', va='center')
fig.text(fx(450), fy(675), "Ensemble ECMWF/CEP du 18/08/2026 - 00Z", fontsize=7.2, ha='left', va='center')
fig.text(fx(450), fy(692), "Copyright 2026 Meteociel.fr - ECMWF", fontsize=8.3, fontweight='bold',
         ha='left', va='center')

fig.savefig("out.png", dpi=100)
